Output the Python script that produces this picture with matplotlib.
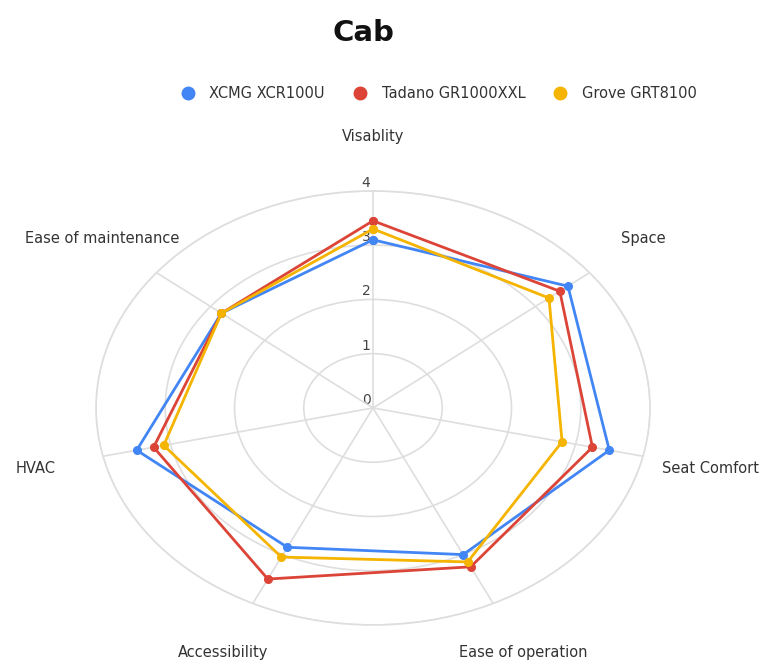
import numpy as np
import matplotlib
matplotlib.use("Agg")
import matplotlib.pyplot as plt
from matplotlib.lines import Line2D
from matplotlib.transforms import offset_copy

plt.rcParams["font.family"] = ["DejaVu Sans"]

categories = ["Visablity", "Space", "Seat Comfort", "Ease of operation",
              "Accessibility", "HVAC", "Ease of maintenance"]
series_names = ["XCMG XCR100U", "Tadano GR1000XXL", "Grove GRT8100"]
xcmg = [3.1, 3.6, 3.5, 3.0, 2.85, 3.5, 2.8]
tadano = [3.45, 3.45, 3.25, 3.25, 3.5, 3.25, 2.8]
grove = [3.3, 3.25, 2.8, 3.15, 3.05, 3.1, 2.8]
colors = ["#4285F4", "#DB4437", "#F4B400"]
r_ticks = [0, 1, 2, 3, 4]

fig = plt.figure(figsize=(7.71, 6.66), dpi=100)
ax = fig.add_axes([0.1245, 0.0616, 0.7186, 0.6517], projection="polar")
ax.set_aspect("auto")
ax.set_theta_offset(np.pi / 2)
ax.set_theta_direction(-1)

n = len(categories)
angles = np.linspace(0, 2 * np.pi, n, endpoint=False)
closed = np.append(angles, angles[0])

grid_col = "#dedede"
ax.set_ylim(0, 4)
ax.set_rgrids([1, 2, 3, 4], labels=[""] * 4)
ax.set_thetagrids(np.degrees(angles), labels=[""] * n)
ax.grid(True, color=grid_col, linewidth=1.2)
ax.spines["polar"].set_color(grid_col)
ax.spines["polar"].set_linewidth(1.2)

# radial tick labels, sitting under the series
tick_tr = offset_copy(ax.transData, fig=fig, x=-7, y=8, units="dots")
for v in r_ticks:
    ax.text(0, v, str(v), transform=tick_tr, ha="center", va="center",
            fontsize=10, color="#444444", zorder=1)

for vals, name, c in zip([xcmg, tadano, grove], series_names, colors):
    data = np.append(vals, vals[0])
    ax.plot(closed, data, color=c, linewidth=2, marker="o",
            markersize=5.5, label=name, zorder=5, clip_on=False)

for ang, lab in zip(angles, categories):
    ax.text(ang, 5.0, lab, ha="center", va="center", fontsize=10.5,
            color="#333333")

fig.text(0.471, 0.95, "Cab", ha="center", va="center", fontsize=21,
         fontweight="bold", color="#111111")

handles = [Line2D([], [], marker="o", linestyle="", color=c, markersize=9)
           for c in colors]
fig.legend(handles, series_names, loc="center", bbox_to_anchor=(0.569, 0.860),
           ncol=3, frameon=False, fontsize=10.5, handlelength=1,
           handletextpad=1.0, columnspacing=1.9, labelcolor="#333333")

fig.savefig("out.png", dpi=100)
